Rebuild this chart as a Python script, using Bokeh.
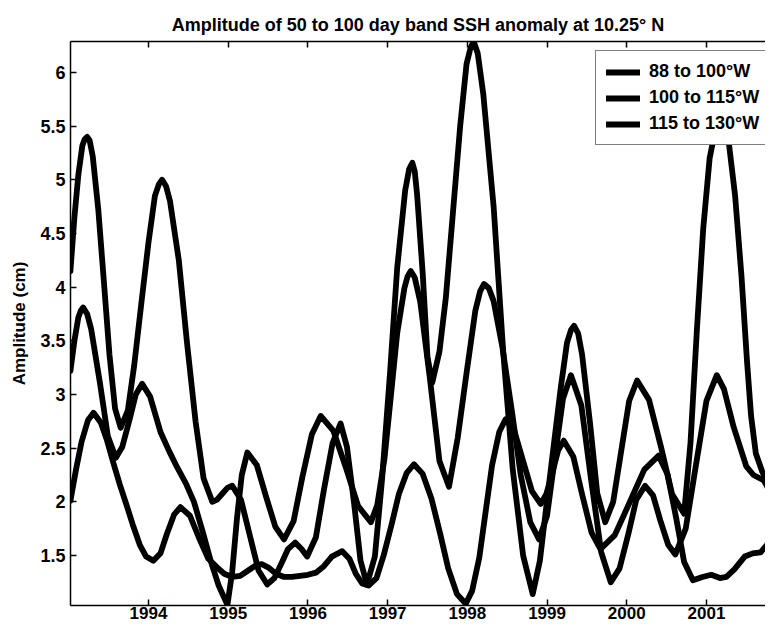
from bokeh.plotting import figure
from bokeh.models import (Range1d, LinearAxis, FixedTicker, Legend, LegendItem,
                          CustomJSTickFormatter)
from bokeh.embed import file_html
from bokeh.resources import INLINE

title_text = "Amplitude of 50 to 100 day band SSH anomaly at 10.25\u00b0 N"
y_label = "Amplitude (cm)"
series_labels = ["88 to 100\u00b0W", "100 to 115\u00b0W", "115 to 130\u00b0W"]
year_ticks = [1994, 1995, 1996, 1997, 1998, 1999, 2000, 2001]
amp_ticks = [1.5, 2, 2.5, 3, 3.5, 4, 4.5, 5, 5.5, 6]

c1_year = [1993.02, 1993.07, 1993.12, 1993.17, 1993.20, 1993.23, 1993.26, 1993.30, 1993.37, 1993.44,
           1993.51, 1993.58, 1993.65, 1993.74, 1993.82, 1993.91, 1994.00, 1994.08, 1994.13, 1994.17,
           1994.22, 1994.27, 1994.38, 1994.48, 1994.59, 1994.69, 1994.80, 1994.86, 1994.93, 1994.99,
           1995.05, 1995.16, 1995.27, 1995.38, 1995.49, 1995.58, 1995.67, 1995.75, 1995.84, 1995.92,
           1995.99, 1996.10, 1996.20, 1996.31, 1996.41, 1996.49, 1996.58, 1996.66, 1996.74, 1996.84,
           1996.93, 1997.03, 1997.12, 1997.22, 1997.27, 1997.31, 1997.34, 1997.37, 1997.44, 1997.50,
           1997.56, 1997.65, 1997.73, 1997.82, 1997.91, 1997.99, 1998.04, 1998.08, 1998.13, 1998.20,
           1998.33, 1998.45, 1998.57, 1998.70, 1998.82, 1998.91, 1998.99, 1999.08, 1999.17, 1999.25,
           1999.30, 1999.34, 1999.39, 1999.44, 1999.54, 1999.63, 1999.73, 1999.83, 1999.93, 2000.03,
           2000.13, 2000.28, 2000.43, 2000.57, 2000.72, 2000.80, 2000.88, 2000.96, 2001.04, 2001.12,
           2001.20, 2001.28, 2001.36, 2001.44, 2001.51, 2001.56, 2001.62, 2001.70, 2001.77, 2001.84]
c1_amp = [4.15, 4.65, 5.05, 5.32, 5.38, 5.40, 5.37, 5.22, 4.72, 4.05,
          3.37, 2.87, 2.69, 2.85, 3.27, 3.85, 4.42, 4.85, 4.96, 5.00,
          4.94, 4.80, 4.25, 3.50, 2.75, 2.22, 2.00, 2.02, 2.08, 2.13,
          2.15, 2.02, 1.69, 1.36, 1.23, 1.29, 1.43, 1.56, 1.62, 1.56,
          1.49, 1.67, 2.11, 2.55, 2.73, 2.51, 1.98, 1.45, 1.23, 1.49,
          2.21, 3.20, 4.18, 4.90, 5.10, 5.16, 5.08, 4.86, 4.13, 3.35,
          3.11, 3.40, 3.90, 4.70, 5.50, 6.08, 6.23, 6.29, 6.18, 5.80,
          4.75, 3.40, 2.30, 1.50, 1.14, 1.45, 1.95, 2.50, 3.05, 3.48,
          3.60, 3.64, 3.57, 3.37, 2.73, 2.08, 1.81, 2.00, 2.47, 2.94,
          3.13, 2.95, 2.51, 2.07, 1.89, 2.55, 3.60, 4.55, 5.20, 5.50,
          5.55, 5.35, 4.85, 4.10, 3.30, 2.80, 2.45, 2.28, 2.18, 2.02]

c2_year = [1993.02, 1993.07, 1993.12, 1993.15, 1993.18, 1993.23, 1993.28, 1993.39, 1993.49, 1993.59,
           1993.67, 1993.76, 1993.84, 1993.92, 1994.02, 1994.15, 1994.26, 1994.36, 1994.47, 1994.57,
           1994.68, 1994.78, 1994.88, 1994.99, 1995.05, 1995.11, 1995.17, 1995.24, 1995.36, 1995.47,
           1995.59, 1995.70, 1995.82, 1995.93, 1996.05, 1996.16, 1996.32, 1996.48, 1996.63, 1996.79,
           1996.87, 1996.96, 1997.04, 1997.12, 1997.21, 1997.25, 1997.29, 1997.34, 1997.41, 1997.53,
           1997.65, 1997.77, 1997.88, 1997.99, 1998.10, 1998.16, 1998.21, 1998.27, 1998.33, 1998.44,
           1998.56, 1998.67, 1998.79, 1998.90, 1999.00, 1999.10, 1999.20, 1999.30, 1999.43, 1999.55,
           1999.68, 1999.80, 1999.91, 2000.02, 2000.12, 2000.23, 2000.33, 2000.42, 2000.52, 2000.61,
           2000.74, 2000.87, 2001.00, 2001.13, 2001.22, 2001.34, 2001.50, 2001.59, 2001.72, 2001.84]
c2_amp = [3.22, 3.50, 3.72, 3.78, 3.81, 3.75, 3.61, 3.11, 2.61, 2.41,
          2.51, 2.76, 3.00, 3.10, 2.98, 2.65, 2.47, 2.32, 2.17, 2.00,
          1.72, 1.45, 1.22, 1.04, 1.35, 1.85, 2.25, 2.46, 2.34, 2.06,
          1.77, 1.65, 1.82, 2.23, 2.63, 2.80, 2.66, 2.31, 1.96, 1.81,
          1.97, 2.40, 2.98, 3.57, 3.99, 4.10, 4.15, 4.09, 3.86, 3.15,
          2.38, 2.14, 2.60, 3.20, 3.78, 3.96, 4.03, 3.99, 3.87, 3.44,
          2.84, 2.25, 1.81, 1.65, 1.87, 2.42, 2.96, 3.18, 2.90, 2.22,
          1.53, 1.25, 1.38, 1.70, 2.02, 2.15, 2.06, 1.83, 1.60, 1.51,
          1.75, 2.35, 2.94, 3.18, 3.05, 2.70, 2.33, 2.25, 2.20, 2.03]

c3_year = [1993.02, 1993.09, 1993.16, 1993.24, 1993.31, 1993.40, 1993.48, 1993.56, 1993.64, 1993.72,
           1993.81, 1993.89, 1993.97, 1994.06, 1994.15, 1994.23, 1994.32, 1994.40, 1994.52, 1994.63,
           1994.75, 1994.86, 1994.95, 1995.05, 1995.15, 1995.25, 1995.35, 1995.42, 1995.50, 1995.60,
           1995.70, 1995.80, 1995.90, 1996.00, 1996.10, 1996.20, 1996.30, 1996.43, 1996.52, 1996.60,
           1996.68, 1996.76, 1996.86, 1996.95, 1997.05, 1997.14, 1997.24, 1997.33, 1997.44, 1997.55,
           1997.66, 1997.76, 1997.87, 1997.98, 1998.06, 1998.15, 1998.23, 1998.31, 1998.40, 1998.48,
           1998.59, 1998.70, 1998.81, 1998.92, 1998.99, 1999.07, 1999.14, 1999.21, 1999.33, 1999.44,
           1999.56, 1999.67, 1999.85, 2000.04, 2000.22, 2000.40, 2000.51, 2000.62, 2000.72, 2000.83,
           2000.95, 2001.06, 2001.17, 2001.25, 2001.35, 2001.48, 2001.58, 2001.68, 2001.76, 2001.84]
c3_amp = [2.01, 2.30, 2.56, 2.76, 2.83, 2.74, 2.57, 2.36, 2.16, 1.98,
          1.77, 1.60, 1.49, 1.45, 1.52, 1.70, 1.88, 1.95, 1.87, 1.67,
          1.47, 1.39, 1.33, 1.30, 1.31, 1.36, 1.41, 1.42, 1.39, 1.33,
          1.30, 1.30, 1.31, 1.32, 1.34, 1.40, 1.49, 1.54, 1.47, 1.33,
          1.24, 1.22, 1.29, 1.50, 1.79, 2.07, 2.27, 2.35, 2.26, 2.03,
          1.70, 1.38, 1.14, 1.05, 1.17, 1.48, 1.91, 2.34, 2.65, 2.77,
          2.66, 2.38, 2.10, 1.98, 2.07, 2.28, 2.48, 2.57, 2.42, 2.07,
          1.71, 1.56, 1.69, 2.00, 2.30, 2.43, 2.26, 1.85, 1.44, 1.27,
          1.30, 1.32, 1.29, 1.30, 1.37, 1.49, 1.52, 1.53, 1.60, 1.74]

FONT = "Liberation Sans"

p = figure(width=765, height=624, output_backend="svg", toolbar_location=None,
           x_range=Range1d(1993.021, 2001.741), y_range=Range1d(1.034, 6.289),
           min_border_left=70, min_border_right=0, min_border_top=41, min_border_bottom=19,
           background_fill_color="white", border_fill_color="white")
p.outline_line_color = None
p.grid.visible = False

p.title.text = title_text
p.title.align = "center"
p.title.offset = 3
p.title.standoff = 14
p.title.text_font = FONT
p.title.text_font_style = "bold"
p.title.text_font_size = "18px"
p.title.text_color = "black"

def style_axis(ax):
    ax.axis_line_color = "black"
    ax.axis_line_width = 1.5
    ax.major_tick_line_color = "black"
    ax.major_tick_line_width = 1.5
    ax.major_tick_in = 6
    ax.major_tick_out = 0
    ax.minor_tick_line_color = None
    ax.major_label_text_font = FONT
    ax.major_label_text_font_style = "bold"
    ax.major_label_text_font_size = "17px"
    ax.major_label_text_color = "black"

xa = p.xaxis[0]
xa.ticker = FixedTicker(ticks=year_ticks)
style_axis(xa)
xa.major_label_standoff = 1

ya = p.yaxis[0]
ya.ticker = FixedTicker(ticks=amp_ticks)
ya.formatter = CustomJSTickFormatter(code="return String(tick);")
style_axis(ya)
ya.major_label_text_font_size = "18px"
ya.major_label_standoff = 5
ya.axis_label = y_label
ya.axis_label_text_font = FONT
ya.axis_label_text_font_style = "bold"
ya.axis_label_text_font_size = "17px"
ya.axis_label_text_color = "black"
ya.axis_label_standoff = 8

top = LinearAxis(ticker=FixedTicker(ticks=year_ticks))
style_axis(top)
top.major_label_text_color = None
top.major_label_text_font_size = "1px"
top.major_label_standoff = 0
p.add_layout(top, "above")

lw = 5.8
r1 = p.line(c1_year, c1_amp, line_color="black", line_width=lw, line_join="round", line_cap="round")
r2 = p.line(c2_year, c2_amp, line_color="black", line_width=lw, line_join="round", line_cap="round")
r3 = p.line(c3_year, c3_amp, line_color="black", line_width=lw, line_join="round", line_cap="round")

legend = Legend(items=[LegendItem(label=series_labels[0], renderers=[r1]),
                       LegendItem(label=series_labels[1], renderers=[r2]),
                       LegendItem(label=series_labels[2], renderers=[r3])],
                location=(525, 460))
legend.border_line_color = "black"
legend.border_line_width = 1.5
legend.background_fill_color = "white"
legend.background_fill_alpha = 1.0
legend.label_text_font = FONT
legend.label_text_font_style = "bold"
legend.label_text_font_size = "18px"
legend.label_text_color = "black"
legend.glyph_width = 34
legend.glyph_height = 20
legend.label_height = 20
legend.label_standoff = 9
legend.spacing = 5
legend.padding = 10
legend.margin = 0
p.add_layout(legend)

open("out.html", "w").write(file_html(p, INLINE))
